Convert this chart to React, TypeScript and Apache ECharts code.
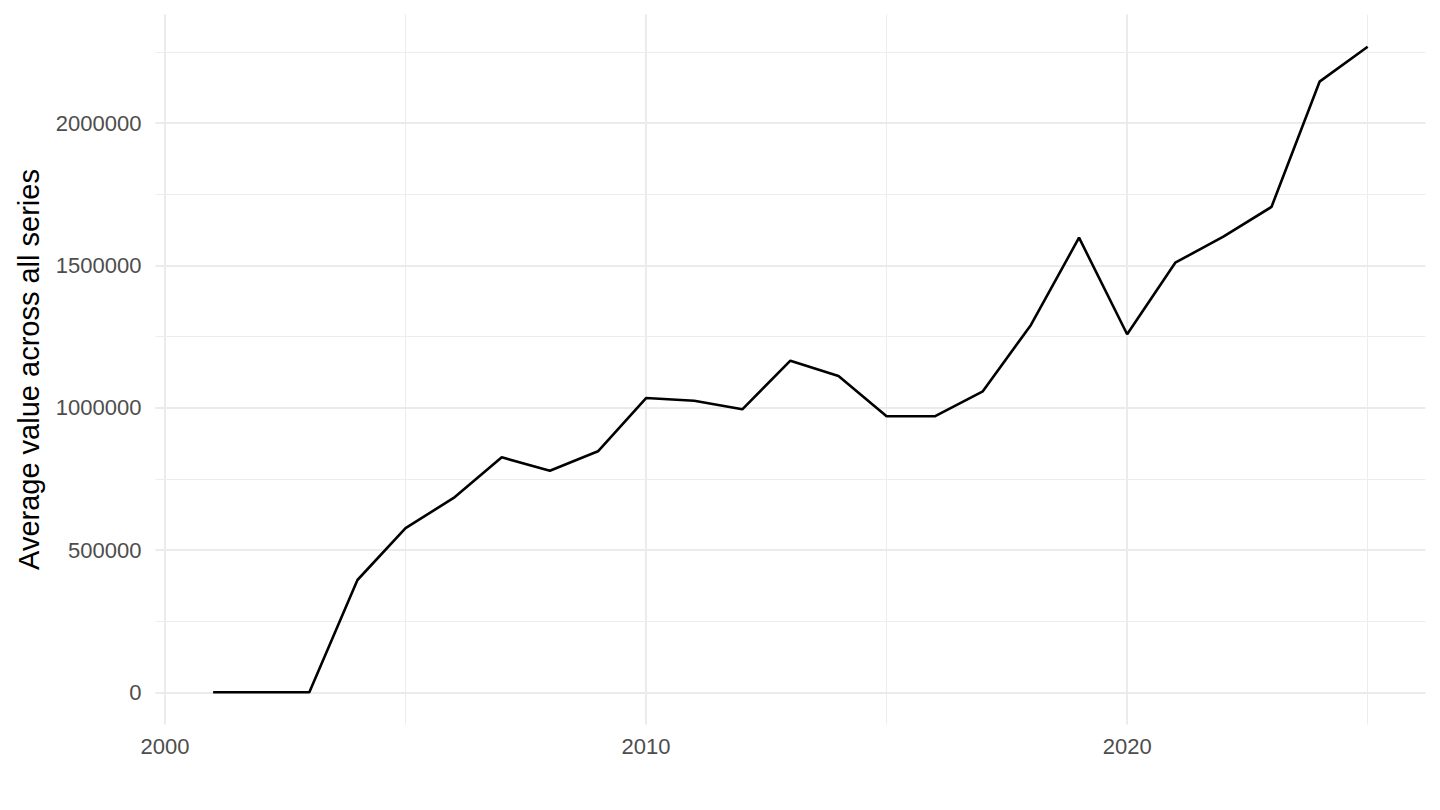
import React, { useEffect, useRef } from "react";
import * as echarts from "echarts";

const years = [
  2001, 2002, 2003, 2004, 2005, 2006, 2007, 2008, 2009, 2010, 2011, 2012, 2013,
  2014, 2015, 2016, 2017, 2018, 2019, 2020, 2021, 2022, 2023, 2024, 2025,
];
const values = [
  0, 0, 0, 394600, 577000, 683000, 825700, 778600, 846800, 1034000, 1024600,
  994400, 1165100, 1111400, 969800, 969800, 1057600, 1290600, 1597300, 1257900,
  1509500, 1600800, 1705200, 2145500, 2268400,
];
const xMajorTicks = [2000, 2010, 2020];
const xMinorTicks = [2005, 2015, 2025];
const yMajorTicks = [0, 500000, 1000000, 1500000, 2000000];
const yMinorTicks = [250000, 750000, 1250000, 1750000, 2250000];
const yTitle = "Average value across all series";

const FONT = "'Liberation Sans', Arial, Helvetica, sans-serif";

export default function App() {
  const ref = useRef<HTMLDivElement>(null);

  useEffect(() => {
    if (!ref.current) return;
    const chart = echarts.init(ref.current, null, { renderer: "svg" });

    const xMinD = Math.min(...years);
    const xMaxD = Math.max(...years);
    const xPad = (xMaxD - xMinD) * 0.05;
    const yMinD = Math.min(...values);
    const yMaxD = Math.max(...values);
    const yPad = (yMaxD - yMinD) * 0.05;

    const major = { color: "#EBEBEB", width: 2, type: "solid" };
    const minor = { color: "#EDEDED", width: 1, type: "solid" };

    const gridLines = [
      ...xMajorTicks.map((v) => ({ xAxis: v, lineStyle: major })),
      ...xMinorTicks.map((v) => ({ xAxis: v, lineStyle: minor })),
      ...yMajorTicks.map((v) => ({ yAxis: v, lineStyle: major })),
      ...yMinorTicks.map((v) => ({ yAxis: v, lineStyle: minor })),
    ];

    const data = years.map((y, i) => [y, values[i]]);

    chart.setOption({
      animation: false,
      backgroundColor: "#FFFFFF",
      grid: { left: 155.4, right: 14.6, top: 14.4, bottom: 85.4 },
      xAxis: {
        type: "value",
        min: xMinD - xPad,
        max: xMaxD + xPad,
        axisLine: { show: false },
        axisTick: { show: false },
        splitLine: { show: false },
        axisLabel: {
          customValues: xMajorTicks,
          color: "#4D4D4D",
          fontSize: 22,
          fontFamily: FONT,
          margin: 11,
          formatter: (v: number) => String(v),
        },
      },
      yAxis: {
        type: "value",
        min: yMinD - yPad,
        max: yMaxD + yPad,
        axisLine: { show: false },
        axisTick: { show: false },
        splitLine: { show: false },
        axisLabel: {
          customValues: yMajorTicks,
          color: "#4D4D4D",
          fontSize: 22,
          fontFamily: FONT,
          margin: 14,
          formatter: (v: number) => String(v),
        },
        name: yTitle,
        nameLocation: "middle",
        nameRotate: 90,
        nameGap: 112,
        nameTextStyle: { color: "#000000", fontSize: 29, fontFamily: FONT },
      },
      series: [
        {
          type: "line",
          data: data,
          z: 1,
          showSymbol: false,
          silent: true,
          lineStyle: { opacity: 0, width: 0 },
          markLine: {
            z: 1,
            silent: true,
            symbol: ["none", "none"],
            label: { show: false },
            emphasis: { disabled: true },
            data: gridLines,
          },
        },
        {
          type: "line",
          data: data,
          z: 3,
          showSymbol: false,
          silent: true,
          lineStyle: { color: "#000000", width: 2.6 },
        },
      ],
    });

    return () => chart.dispose();
  }, []);

  return (
    <div
      ref={ref}
      style={{ position: "fixed", left: 0, top: 0, width: 1440, height: 810 }}
    />
  );
}
